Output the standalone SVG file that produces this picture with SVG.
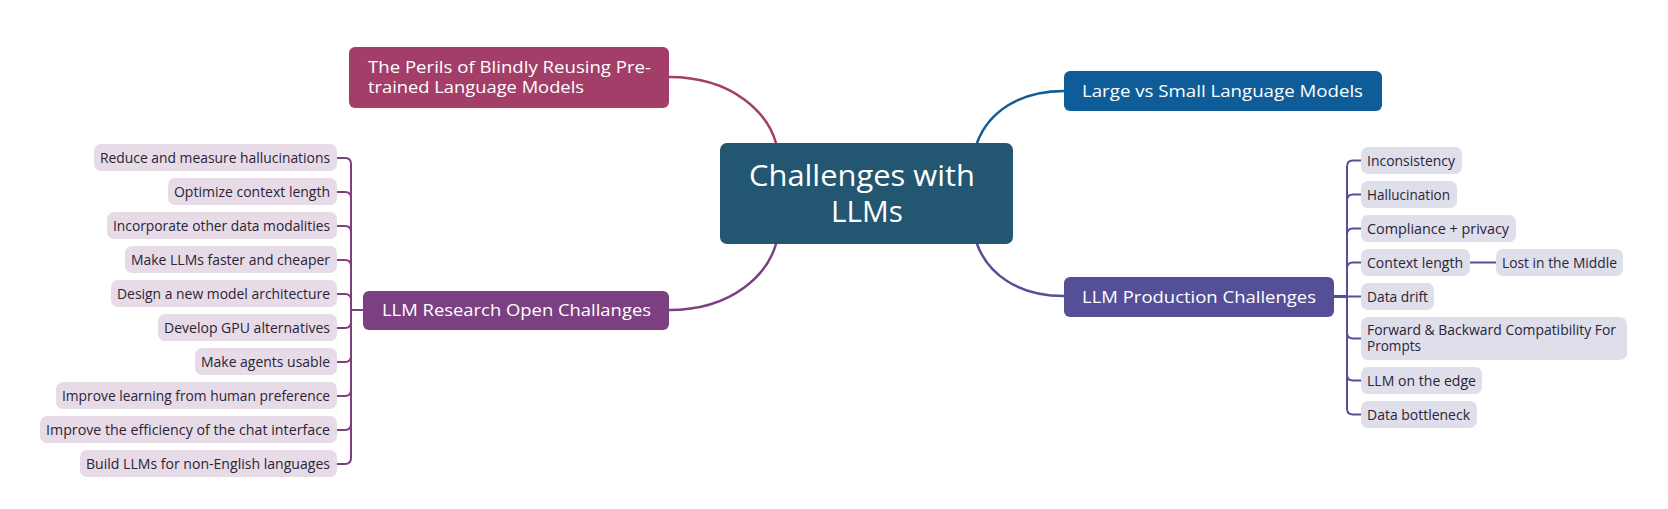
<svg xmlns="http://www.w3.org/2000/svg" width="1668" height="509" viewBox="0 0 1668 509">
<style>
text{font-family:"Open Sans","Liberation Sans",sans-serif}
.main{fill:#ffffff;font-size:17px}
.ctr{fill:#ffffff;font-size:29px}
.lc rect{fill:#e6dbe7}
.rc rect{fill:#dfdeeb}
.ct{fill:#2b2436;font-size:14px}
.conn path{fill:none;stroke-linecap:round;stroke-linejoin:round}
.p1{stroke:#a23e68;stroke-width:2.5}
.p2{stroke:#7b3f82;stroke-width:2.5}
.p3{stroke:#0e5c98;stroke-width:2.5}
.p4{stroke:#544f96;stroke-width:2.5}
.l{stroke:#7b3f82;stroke-width:2}
.r{stroke:#544f96;stroke-width:2}
</style>
<rect width="1668" height="509" fill="#ffffff"/>
<g id="connectors" class="conn">
<path class="p1" d="M669,77 C735,77 768,115 776,143"/>
<path class="p2" d="M776,244 C768,272 735,310 669,310"/>
<path class="p3" d="M977,143 C988,113 1018,91 1064,91"/>
<path class="p4" d="M977,244 C988,274 1018,296 1064,296"/>
<path class="l" d="M363,310 H351 V164 Q351,158 345,158 H337"/>
<path class="l" d="M363,310 H351 V198 Q351,192 345,192 H337"/>
<path class="l" d="M363,310 H351 V232 Q351,226 345,226 H337"/>
<path class="l" d="M363,310 H351 V266 Q351,260 345,260 H337"/>
<path class="l" d="M363,310 H351 V300 Q351,294 345,294 H337"/>
<path class="l" d="M363,310 H351 V322 Q351,328 345,328 H337"/>
<path class="l" d="M363,310 H351 V356 Q351,362 345,362 H337"/>
<path class="l" d="M363,310 H351 V390 Q351,396 345,396 H337"/>
<path class="l" d="M363,310 H351 V424 Q351,430 345,430 H337"/>
<path class="l" d="M363,310 H351 V458 Q351,464 345,464 H337"/>
<path class="r" d="M1334,296.5 H1347 V166.5 Q1347,160.5 1353,160.5 H1361"/>
<path class="r" d="M1334,296.5 H1347 V200.5 Q1347,194.5 1353,194.5 H1361"/>
<path class="r" d="M1334,296.5 H1347 V234.5 Q1347,228.5 1353,228.5 H1361"/>
<path class="r" d="M1334,296.5 H1347 V268.5 Q1347,262.5 1353,262.5 H1361"/>
<path class="r" d="M1334,296.5 H1361"/>
<path class="r" d="M1334,296.5 H1347 V332.5 Q1347,338.5 1353,338.5 H1361"/>
<path class="r" d="M1334,296.5 H1347 V374.5 Q1347,380.5 1353,380.5 H1361"/>
<path class="r" d="M1334,296.5 H1347 V408.5 Q1347,414.5 1353,414.5 H1361"/>
<path class="r" d="M1470,262.5 H1496"/>
</g>
<g id="central">
<rect x="720" y="143" width="293" height="101" rx="7" fill="#235670"/>
<text class="ctr" x="749" y="186" textLength="226" lengthAdjust="spacingAndGlyphs">Challenges with</text>
<text class="ctr" x="831" y="222" textLength="72" lengthAdjust="spacingAndGlyphs">LLMs</text>
</g>
<g id="perils">
<rect x="349" y="47" width="320" height="61" rx="6" fill="#a23e68"/>
<text class="main" x="368" y="73" textLength="283" lengthAdjust="spacingAndGlyphs">The Perils of Blindly Reusing Pre-</text>
<text class="main" x="368" y="93" textLength="216" lengthAdjust="spacingAndGlyphs">trained Language Models</text>
</g>
<g id="research">
<rect x="363" y="291" width="306" height="39" rx="6" fill="#7b3f82"/>
<text class="main" x="382" y="316" textLength="269" lengthAdjust="spacingAndGlyphs">LLM Research Open Challanges</text>
</g>
<g id="largesmall">
<rect x="1064" y="71" width="318" height="40" rx="6" fill="#0e5c98"/>
<text class="main" x="1082" y="97" textLength="281" lengthAdjust="spacingAndGlyphs">Large vs Small Language Models</text>
</g>
<g id="production">
<rect x="1064" y="277" width="270" height="40" rx="6" fill="#544f96"/>
<text class="main" x="1082" y="303" textLength="234" lengthAdjust="spacingAndGlyphs">LLM Production Challenges</text>
</g>
<g id="r1" class="lc"><rect x="94" y="144" width="243" height="27" rx="7"/><text class="ct" x="100" y="162.5" textLength="230" lengthAdjust="spacingAndGlyphs">Reduce and measure hallucinations</text></g>
<g id="r2" class="lc"><rect x="168" y="178" width="169" height="27" rx="7"/><text class="ct" x="174" y="196.5" textLength="156" lengthAdjust="spacingAndGlyphs">Optimize context length</text></g>
<g id="r3" class="lc"><rect x="107" y="212" width="230" height="27" rx="7"/><text class="ct" x="113" y="230.5" textLength="217" lengthAdjust="spacingAndGlyphs">Incorporate other data modalities</text></g>
<g id="r4" class="lc"><rect x="125" y="246" width="212" height="27" rx="7"/><text class="ct" x="131" y="264.5" textLength="199" lengthAdjust="spacingAndGlyphs">Make LLMs faster and cheaper</text></g>
<g id="r5" class="lc"><rect x="111" y="280" width="226" height="27" rx="7"/><text class="ct" x="117" y="298.5" textLength="213" lengthAdjust="spacingAndGlyphs">Design a new model architecture</text></g>
<g id="r6" class="lc"><rect x="158" y="314" width="179" height="27" rx="7"/><text class="ct" x="164" y="332.5" textLength="166" lengthAdjust="spacingAndGlyphs">Develop GPU alternatives</text></g>
<g id="r7" class="lc"><rect x="195" y="348" width="142" height="27" rx="7"/><text class="ct" x="201" y="366.5" textLength="129" lengthAdjust="spacingAndGlyphs">Make agents usable</text></g>
<g id="r8" class="lc"><rect x="56" y="382" width="281" height="27" rx="7"/><text class="ct" x="62" y="400.5" textLength="268" lengthAdjust="spacingAndGlyphs">Improve learning from human preference</text></g>
<g id="r9" class="lc"><rect x="40" y="416" width="297" height="27" rx="7"/><text class="ct" x="46" y="434.5" textLength="284" lengthAdjust="spacingAndGlyphs">Improve the efficiency of the chat interface</text></g>
<g id="r10" class="lc"><rect x="80" y="450" width="257" height="27" rx="7"/><text class="ct" x="86" y="468.5" textLength="244" lengthAdjust="spacingAndGlyphs">Build LLMs for non-English languages</text></g>
<g id="p1" class="rc"><rect x="1361" y="147" width="101" height="27" rx="7"/><text class="ct" x="1367" y="165.5" textLength="88" lengthAdjust="spacingAndGlyphs">Inconsistency</text></g>
<g id="p2" class="rc"><rect x="1361" y="181" width="96" height="27" rx="7"/><text class="ct" x="1367" y="199.5" textLength="83" lengthAdjust="spacingAndGlyphs">Hallucination</text></g>
<g id="p3" class="rc"><rect x="1361" y="215" width="155" height="27" rx="7"/><text class="ct" x="1367" y="233.5" textLength="142" lengthAdjust="spacingAndGlyphs">Compliance + privacy</text></g>
<g id="p4" class="rc"><rect x="1361" y="249" width="109" height="27" rx="7"/><text class="ct" x="1367" y="267.5" textLength="96" lengthAdjust="spacingAndGlyphs">Context length</text></g>
<g id="p4a" class="rc"><rect x="1496" y="249" width="127" height="27" rx="7"/><text class="ct" x="1502" y="267.5" textLength="115" lengthAdjust="spacingAndGlyphs">Lost in the Middle</text></g>
<g id="p5" class="rc"><rect x="1361" y="283" width="73" height="27" rx="7"/><text class="ct" x="1367" y="301.5" textLength="61" lengthAdjust="spacingAndGlyphs">Data drift</text></g>
<g id="p6" class="rc"><rect x="1361" y="317" width="266" height="43" rx="7"/><text class="ct" x="1367" y="335" textLength="249" lengthAdjust="spacingAndGlyphs">Forward &amp; Backward Compatibility For</text><text class="ct" x="1367" y="351" textLength="54" lengthAdjust="spacingAndGlyphs">Prompts</text></g>
<g id="p7" class="rc"><rect x="1361" y="367" width="121" height="27" rx="7"/><text class="ct" x="1367" y="385.5" textLength="109" lengthAdjust="spacingAndGlyphs">LLM on the edge</text></g>
<g id="p8" class="rc"><rect x="1361" y="401" width="116" height="27" rx="7"/><text class="ct" x="1367" y="419.5" textLength="103" lengthAdjust="spacingAndGlyphs">Data bottleneck</text></g>
</svg>
